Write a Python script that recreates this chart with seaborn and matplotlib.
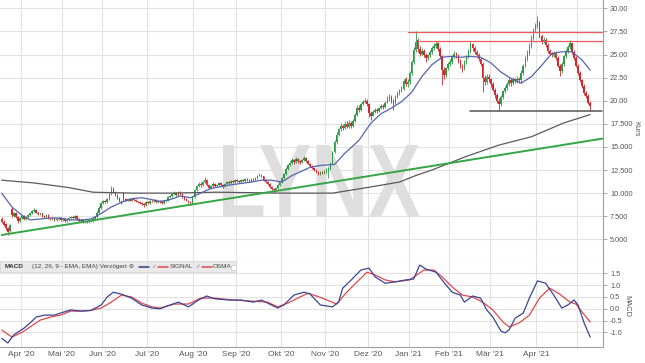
import numpy as np
import pandas as pd
import matplotlib
matplotlib.use('Agg')
import matplotlib.pyplot as plt
import matplotlib.transforms as mtransforms
from matplotlib.lines import Line2D
from matplotlib.patches import Rectangle, PathPatch
from matplotlib.textpath import TextPath
from matplotlib.font_manager import FontProperties
import seaborn as sns

# --- daily candles, 18.03.2020 .. 11.05.2021 (Xetra trading days) ---
open_ = [7.2, 6.9, 6.7, 6.2, 5.9, 8.3, 7.5, 7.9, 7.4, 7.0,
         7.3, 7.5, 7.2, 7.4, 7.6, 7.8, 8.1, 8.2, 7.9, 7.7,
         7.8, 7.5, 7.4, 7.6, 7.3, 7.2, 7.3, 7.1, 7.2, 7.3,
         7.1, 7.2, 7.0, 7.1, 7.3, 7.4, 7.3, 7.5, 7.2, 7.0,
         7.1, 6.9, 7.0, 6.9, 7.1, 7.0, 7.2, 7.4, 7.9, 8.4,
         8.9, 9.1, 9.0, 9.4, 9.9, 10.6, 10.1, 9.8, 9.5, 9.1,
         10.0, 9.4, 9.2, 9.4, 9.2, 9.4, 9.3, 9.1, 9.0, 8.9,
         8.8, 8.7, 9.0, 8.9, 9.2, 9.1, 9.3, 9.0, 9.2, 9.0,
         8.9, 9.1, 9.2, 9.6, 9.7, 9.9, 10.0, 9.8, 10.1, 9.9,
         9.6, 9.4, 9.2, 9.0, 8.9, 9.6, 10.3, 10.8, 11.0, 10.9,
         11.2, 11.4, 10.9, 10.6, 10.8, 11.0, 10.8, 10.9, 11.1, 10.9,
         10.8, 11.0, 11.2, 11.1, 11.3, 11.2, 11.4, 11.3, 11.2, 11.4,
         11.3, 11.5, 11.4, 11.3, 11.5, 11.4, 11.6, 11.9, 12.0, 11.8,
         11.4, 11.2, 11.0, 10.7, 10.5, 10.3, 10.6, 10.9, 11.2, 11.6,
         12.1, 12.6, 13.0, 13.3, 13.6, 13.4, 13.7, 13.5, 13.4, 13.6,
         13.8, 13.5, 13.2, 12.9, 12.7, 12.5, 12.3, 12.1, 12.3, 12.2,
         12.4, 12.5, 12.6, 13.2, 14.4, 15.5, 16.3, 16.9, 17.3, 17.0,
         17.5, 17.2, 17.6, 17.3, 17.8, 18.5, 19.2, 19.0, 19.6, 19.9,
         20.0, 19.6, 18.7, 18.4, 18.8, 19.0, 18.9, 19.2, 19.4, 19.3,
         19.8, 20.2, 20.4, 20.0, 19.7, 20.4, 20.8, 21.0, 21.3, 22.3,
         21.8, 22.0, 23.0, 24.2, 25.5, 26.6, 25.6, 25.1, 25.4, 25.0,
         24.6, 24.9, 25.3, 25.7, 25.9, 26.2, 25.6, 24.8, 23.3, 22.8,
         23.5, 24.0, 24.2, 24.8, 25.1, 24.9, 24.3, 23.8, 23.5, 24.2,
         24.8, 25.4, 26.1, 25.7, 25.3, 25.0, 24.5, 24.0, 22.5, 22.0,
         22.6, 22.3, 21.8, 21.2, 20.6, 20.0, 19.6, 20.4, 21.0, 21.4,
         21.8, 22.2, 21.9, 22.3, 22.1, 22.4, 22.2, 23.0, 23.8, 24.5,
         25.2, 25.9, 26.8, 27.6, 28.1, 28.4, 27.0, 26.4, 26.6, 26.0,
         25.4, 25.1, 24.9, 25.2, 24.6, 23.8, 23.2, 24.0, 24.8, 25.4,
         25.8, 26.2, 25.3, 24.6, 23.8, 23.0, 22.2, 21.6, 20.8, 20.5, 19.8]
close = [6.9, 6.6, 6.2, 5.8, 6.5, 7.6, 7.8, 7.4, 7.0, 7.3,
         7.5, 7.2, 7.4, 7.6, 7.8, 8.1, 8.2, 7.9, 7.7, 7.8,
         7.5, 7.4, 7.6, 7.3, 7.2, 7.3, 7.1, 7.2, 7.3, 7.1,
         7.2, 7.0, 7.1, 7.3, 7.4, 7.3, 7.5, 7.2, 7.0, 7.1,
         6.9, 7.0, 6.9, 7.1, 7.0, 7.2, 7.4, 7.9, 8.4, 8.9,
         9.1, 9.0, 9.4, 9.9, 10.4, 10.1, 9.8, 9.5, 9.1, 9.0,
         9.4, 9.2, 9.4, 9.2, 9.4, 9.3, 9.1, 9.0, 8.9, 8.8,
         8.7, 9.0, 8.9, 9.2, 9.1, 9.3, 9.0, 9.2, 9.0, 8.9,
         9.1, 9.2, 9.6, 9.7, 9.9, 10.0, 9.8, 10.1, 9.9, 9.6,
         9.4, 9.2, 9.0, 8.9, 9.6, 10.3, 10.8, 11.0, 10.9, 11.2,
         11.4, 10.9, 10.6, 10.8, 11.0, 10.8, 10.9, 11.1, 10.9, 10.8,
         11.0, 11.2, 11.1, 11.3, 11.2, 11.4, 11.3, 11.2, 11.4, 11.3,
         11.5, 11.4, 11.3, 11.5, 11.4, 11.6, 11.9, 12.0, 11.8, 11.4,
         11.2, 11.0, 10.7, 10.5, 10.3, 10.6, 10.9, 11.2, 11.6, 12.1,
         12.6, 13.0, 13.3, 13.6, 13.4, 13.7, 13.5, 13.4, 13.6, 13.8,
         13.5, 13.2, 12.9, 12.7, 12.5, 12.3, 12.1, 12.3, 12.2, 12.4,
         12.5, 12.6, 13.2, 14.4, 15.5, 16.3, 16.9, 17.3, 17.0, 17.5,
         17.2, 17.6, 17.3, 17.8, 18.5, 19.2, 19.0, 19.6, 19.9, 20.0,
         19.6, 18.7, 18.4, 18.8, 19.0, 18.9, 19.2, 19.4, 19.3, 19.8,
         20.2, 20.4, 20.0, 19.7, 20.4, 20.8, 21.0, 21.3, 22.1, 21.8,
         22.0, 23.0, 24.2, 25.5, 26.4, 25.6, 25.1, 25.4, 25.0, 24.6,
         24.9, 25.3, 25.7, 25.9, 26.1, 25.6, 24.8, 23.3, 22.8, 23.5,
         24.0, 24.2, 24.8, 25.1, 24.9, 24.3, 23.8, 23.5, 24.2, 24.8,
         25.4, 26.1, 25.7, 25.3, 25.0, 24.5, 24.0, 22.5, 22.0, 22.6,
         22.3, 21.8, 21.2, 20.6, 20.0, 19.6, 20.4, 21.0, 21.4, 21.8,
         22.2, 21.9, 22.3, 22.1, 22.4, 22.2, 23.0, 23.8, 24.5, 25.2,
         25.9, 26.8, 27.6, 28.1, 28.6, 27.0, 26.4, 26.6, 26.0, 25.4,
         25.1, 24.9, 25.2, 24.6, 23.8, 23.2, 24.0, 24.8, 25.4, 25.8,
         26.2, 25.3, 24.6, 23.8, 23.0, 22.2, 21.6, 20.8, 20.5, 19.8, 19.4]
high = [7.4, 7.1, 6.8, 6.3, 6.7, 8.5, 8.0, 8.0, 7.5, 7.4,
        7.6, 7.6, 7.5, 7.7, 7.9, 8.2, 8.4, 8.3, 8.0, 7.9,
        7.9, 7.6, 7.7, 7.7, 7.4, 7.4, 7.4, 7.3, 7.4, 7.4,
        7.3, 7.3, 7.2, 7.4, 7.5, 7.5, 7.6, 7.6, 7.3, 7.2,
        7.2, 7.1, 7.1, 7.2, 7.2, 7.3, 7.5, 8.1, 8.6, 9.0,
        9.3, 9.3, 9.5, 10.0, 10.8, 10.7, 10.2, 9.9, 9.6, 9.2,
        10.1, 9.5, 9.5, 9.5, 9.5, 9.5, 9.4, 9.2, 9.1, 9.0,
        8.9, 9.1, 9.1, 9.3, 9.3, 9.4, 9.4, 9.3, 9.3, 9.1,
        9.2, 9.3, 9.7, 9.8, 10.0, 10.2, 10.1, 10.2, 10.2, 10.0,
        9.7, 9.5, 9.3, 9.1, 9.7, 10.4, 10.9, 11.2, 11.2, 11.3,
        11.7, 11.5, 11.0, 10.9, 11.2, 11.1, 11.0, 11.2, 11.2, 11.0,
        11.1, 11.3, 11.3, 11.4, 11.4, 11.5, 11.5, 11.4, 11.5, 11.5,
        11.6, 11.6, 11.5, 11.6, 11.6, 11.7, 12.0, 12.2, 12.1, 11.9,
        11.5, 11.3, 11.1, 10.8, 10.6, 10.7, 11.0, 11.3, 11.7, 12.2,
        12.8, 13.1, 13.5, 13.8, 13.7, 13.9, 13.8, 13.6, 13.7, 14.0,
        13.9, 13.6, 13.3, 13.0, 12.8, 12.6, 12.4, 12.4, 12.4, 12.5,
        12.7, 12.8, 13.4, 14.6, 15.7, 16.6, 17.1, 17.6, 17.5, 17.8,
        17.8, 17.9, 17.8, 18.0, 18.7, 19.5, 19.5, 19.8, 20.1, 20.3,
        20.2, 19.8, 18.9, 19.0, 19.2, 19.2, 19.3, 19.6, 19.6, 20.0,
        20.5, 20.7, 20.6, 20.2, 20.6, 21.0, 21.3, 21.6, 22.4, 22.6,
        22.3, 23.2, 24.4, 25.8, 27.5, 26.8, 25.9, 25.7, 25.6, 25.2,
        25.1, 25.5, 25.9, 26.2, 26.5, 26.4, 25.8, 25.0, 23.6, 23.7,
        24.2, 24.5, 25.0, 25.4, 25.3, 25.0, 24.5, 24.0, 24.4, 25.0,
        25.6, 26.5, 26.3, 25.9, 25.5, 25.2, 24.7, 24.2, 22.8, 22.9,
        22.9, 22.5, 22.0, 21.4, 20.8, 20.3, 20.6, 21.2, 21.6, 22.0,
        22.5, 22.5, 22.6, 22.5, 22.7, 22.6, 23.3, 24.0, 24.8, 25.5,
        26.2, 27.1, 27.9, 28.4, 29.2, 28.6, 27.2, 26.9, 26.8, 26.2,
        25.6, 25.3, 25.4, 25.4, 24.8, 24.0, 24.2, 25.0, 25.6, 26.0,
        26.6, 26.3, 25.5, 24.8, 24.0, 23.2, 22.4, 21.8, 21.0, 20.7, 20.0]
low = [6.8, 6.4, 6.0, 5.5, 5.8, 7.4, 7.4, 7.3, 6.8, 6.9,
       7.2, 7.1, 7.1, 7.3, 7.5, 7.7, 8.0, 7.8, 7.6, 7.6,
       7.4, 7.3, 7.3, 7.2, 7.1, 7.1, 7.0, 7.0, 7.1, 7.0,
       7.0, 6.9, 6.9, 7.0, 7.2, 7.2, 7.2, 7.1, 6.9, 6.9,
       6.8, 6.8, 6.8, 6.8, 6.9, 6.9, 7.1, 7.3, 7.8, 8.3,
       8.8, 8.9, 8.9, 9.3, 9.8, 10.0, 9.7, 9.4, 9.0, 8.8,
       9.2, 9.1, 9.1, 9.1, 9.1, 9.2, 9.0, 8.9, 8.8, 8.7,
       8.5, 8.6, 8.8, 8.8, 9.0, 9.0, 8.9, 8.9, 8.9, 8.8,
       8.8, 9.0, 9.1, 9.5, 9.6, 9.8, 9.7, 9.7, 9.8, 9.5,
       9.3, 9.1, 8.9, 8.7, 8.8, 9.5, 10.2, 10.7, 10.7, 10.8,
       11.1, 10.8, 10.4, 10.5, 10.7, 10.7, 10.7, 10.8, 10.8, 10.6,
       10.7, 10.9, 11.0, 11.0, 11.1, 11.1, 11.2, 11.1, 11.1, 11.2,
       11.2, 11.3, 11.2, 11.2, 11.3, 11.3, 11.5, 11.8, 11.7, 11.3,
       11.1, 10.9, 10.6, 10.3, 10.1, 10.2, 10.5, 10.8, 11.1, 11.5,
       12.0, 12.5, 12.9, 13.2, 13.2, 13.3, 13.3, 13.2, 13.3, 13.5,
       13.4, 13.1, 12.8, 12.6, 12.4, 12.2, 12.0, 12.0, 12.1, 12.1,
       12.2, 11.6, 12.5, 13.1, 14.3, 15.3, 16.2, 16.7, 16.8, 16.9,
       17.0, 17.1, 17.1, 17.2, 17.7, 18.4, 18.8, 18.9, 19.5, 19.7,
       19.4, 18.2, 17.9, 18.3, 18.7, 18.7, 18.8, 19.1, 19.1, 19.2,
       19.7, 20.0, 19.8, 19.0, 19.6, 20.3, 20.6, 20.9, 21.2, 21.6,
       21.5, 21.8, 22.8, 24.0, 25.3, 25.3, 24.8, 24.9, 24.7, 24.2,
       24.4, 24.7, 25.1, 25.5, 25.7, 25.4, 24.6, 21.7, 22.4, 22.6,
       23.3, 23.8, 24.0, 24.6, 24.6, 24.1, 23.5, 23.1, 23.3, 24.0,
       24.6, 25.2, 25.4, 25.1, 24.8, 24.3, 23.8, 20.9, 21.7, 21.8,
       22.0, 21.5, 21.0, 20.3, 19.7, 18.9, 19.4, 20.2, 20.8, 21.2,
       21.6, 21.6, 21.7, 21.9, 21.9, 21.9, 22.0, 22.8, 23.6, 24.3,
       25.0, 25.7, 26.6, 27.4, 27.9, 26.8, 26.1, 26.2, 25.8, 25.2,
       24.9, 24.7, 24.7, 24.4, 23.6, 22.7, 23.0, 23.8, 24.6, 25.2,
       25.6, 25.1, 24.4, 23.6, 22.8, 22.0, 21.4, 20.6, 20.3, 19.6, 18.9]

# moving averages (trading-day index, value)
ma_short_idx = [0, 5, 10, 14, 19, 24, 29, 34, 39, 44, 49, 54, 59, 64, 69, 74, 78, 83, 88, 93,
                98, 103, 113, 123, 128, 133, 138, 143, 148, 152, 157, 164, 169, 176, 182, 187,
                192, 197, 202, 207, 212, 217, 221, 226, 231, 236, 241, 246, 251, 256, 261, 266,
                271, 276, 281, 286, 290]
ma_short_val = [10.0, 8.5, 7.6, 7.1, 7.2, 7.3, 7.3, 7.1, 7.1, 7.2, 7.8, 8.5, 9.0, 9.4, 9.5, 9.3,
                9.1, 9.3, 9.7, 9.5, 10.0, 10.5, 10.9, 11.2, 11.4, 11.4, 11.2, 11.9, 12.4, 12.8,
                13.0, 13.1, 14.3, 15.7, 17.6, 18.6, 19.2, 19.9, 20.9, 22.6, 23.9, 24.7, 24.8,
                24.7, 24.8, 24.7, 24.1, 23.1, 22.4, 21.9, 22.6, 23.8, 25.1, 25.3, 25.3, 24.4, 23.3]
ma_long_idx = [0, 16, 33, 45, 65, 82, 106, 139, 163, 180, 196, 204, 212, 228, 245, 261, 277, 290]
ma_long_val = [11.4, 11.1, 10.6, 10.1, 10.0, 10.0, 10.1, 10.0, 10.0, 10.6, 11.2, 11.9, 12.5,
               13.9, 15.2, 16.1, 17.6, 18.5]

# drawn lines: trend line, resistance and support
trend_idx = [0, 296]
trend_val = [5.47, 15.9]
resist_hi_idx = [200, 297]
resist_hi_val = [27.45, 27.45]
resist_lo_idx = [206, 297]
resist_lo_val = [26.5, 26.5]
support_idx = [231, 296]
support_val = [18.9, 18.9]

# MACD (12, 26, 9)
macd_idx = [0, 3, 6, 11, 14, 17, 21, 26, 29, 34, 39, 44, 49, 52, 55, 59, 64, 69, 74, 78, 83, 87,
            92, 97, 101, 105, 112, 118, 124, 128, 131, 136, 139, 144, 149, 152, 157, 163, 166,
            168, 172, 177, 181, 184, 189, 194, 199, 203, 206, 209, 214, 219, 222, 226, 228, 232,
            236, 239, 242, 246, 248, 250, 253, 257, 260, 264, 268, 272, 276, 279, 282, 284, 287, 290]
macd_val = [-1.25, -1.45, -1.1, -0.82, -0.6, -0.35, -0.27, -0.27, -0.18, -0.05, -0.1, -0.07, 0.16,
            0.5, 0.7, 0.62, 0.45, 0.16, 0.03, 0.0, 0.16, 0.28, 0.08, 0.37, 0.54, 0.42, 0.37, 0.37,
            0.28, 0.37, 0.24, 0.03, 0.16, 0.58, 0.7, 0.62, 0.16, 0.08, 0.28, 0.87, 1.2, 1.64, 1.72,
            1.35, 1.08, 1.14, 1.22, 1.26, 1.85, 1.68, 1.55, 1.0, 0.7, 0.58, 0.28, 0.54, 0.45, -0.05,
            -0.35, -0.94, -1.02, -0.9, -0.4, -0.18, 0.45, 1.18, 1.08, 0.58, 0.03, 0.16, 0.37, 0.16,
            -0.6, -1.2]
signal_idx = [0, 5, 10, 14, 19, 24, 29, 34, 39, 44, 49, 54, 59, 64, 69, 74, 78, 85, 92, 98, 105,
              114, 124, 131, 136, 141, 147, 151, 158, 165, 170, 175, 180, 184, 189, 194, 201, 208,
              213, 217, 222, 227, 232, 237, 242, 247, 250, 255, 260, 265, 270, 275, 280, 283, 286, 290]
signal_val = [-0.9, -1.2, -1.0, -0.77, -0.48, -0.35, -0.27, -0.1, -0.1, -0.07, 0.03, 0.28, 0.58,
              0.5, 0.24, 0.08, 0.03, 0.2, 0.2, 0.45, 0.45, 0.37, 0.32, 0.28, 0.08, 0.24, 0.5, 0.66,
              0.45, 0.2, 0.7, 1.13, 1.55, 1.43, 1.22, 1.14, 1.22, 1.64, 1.64, 1.35, 0.92, 0.58, 0.5,
              0.28, -0.05, -0.56, -0.77, -0.6, -0.27, 0.45, 0.87, 0.62, 0.28, 0.2, -0.14, -0.56]

kurs_ticks = [5, 7.5, 10, 12.5, 15, 17.5, 20, 22.5, 25, 27.5, 30]
kurs_labels = ['5.000', '7.500', '10.000', '12.500', '15.000', '17.500',
               '20.00', '22.50', '25.00', '27.50', '30.00']
macd_ticks = [-1.0, -0.5, 0.0, 0.5, 1.0, 1.5]
macd_labels = ['-1.0', '-0.5', '0.0', '0.5', '1.0', '1.5']
month_labels = ["Apr '20", "Mai '20", "Jun '20", "Jul '20", "Aug '20", "Sep '20", "Okt '20",
                "Nov '20", "Dez '20", "Jan '21", "Feb '21", "Mär '21", "Apr '21", ""]
holidays = ['2020-04-10', '2020-04-13', '2020-05-01', '2020-12-24', '2020-12-25',
            '2020-12-31', '2021-01-01', '2021-04-02', '2021-04-05']

assert len(open_) == len(close) == len(high) == len(low)

days = pd.bdate_range('2020-03-18', periods=320)
days = days[~days.isin(pd.to_datetime(holidays))][:len(close)]
pos = np.arange(len(days))
month_pos = [i - 0.5 for i in range(1, len(days)) if days[i].month != days[i - 1].month]

GREEN = '#2f9a45'
RED = '#d4262c'
GRID = '#e2e2e2'
TXT = '#555555'

sns.set_style('whitegrid')
plt.rcParams['font.family'] = ['Liberation Sans', 'DejaVu Sans']

W, H = 645, 363
fig = plt.figure(figsize=(W / 100, H / 100), dpi=100)


def fbox(x0, y0, x1, y1):
    return [x0 / W, 1 - y1 / H, (x1 - x0) / W, (y1 - y0) / H]


ax = fig.add_axes(fbox(0, 0, 603, 258))
ax2 = fig.add_axes(fbox(0, 258, 603, 347), sharex=ax)

# watermark
fp = FontProperties(family='Liberation Sans', weight='bold')
tp = TextPath((0, 0), 'LYNX', size=100, prop=fp)
bb = tp.get_extents()
wx0, wy0, wx1, wy1 = 223 / W, 1 - 217 / H, 420 / W, 1 - 145 / H
wtr = (mtransforms.Affine2D().translate(-bb.x0, -bb.y0)
       .scale((wx1 - wx0) / bb.width, (wy1 - wy0) / bb.height)
       .translate(wx0, wy0) + fig.transFigure)
ax.add_artist(PathPatch(tp, transform=wtr, facecolor='#dedede', edgecolor='none', zorder=1))

# candles
o = np.array(open_)
c = np.array(close)
cols = [GREEN if cc >= oo else RED for oo, cc in zip(o, c)]
ax.vlines(pos, low, high, colors=cols, lw=0.6, zorder=2)
body = np.maximum(np.abs(c - o), 0.06)
ax.bar(pos, body, bottom=np.minimum(o, c), width=0.75, color=cols, linewidth=0, zorder=3)

sns.lineplot(x=ma_long_idx, y=ma_long_val, ax=ax, color='#5a5a5a', lw=0.9, zorder=4)
sns.lineplot(x=ma_short_idx, y=ma_short_val, ax=ax, color='#5663ad', lw=0.9, zorder=4)
sns.lineplot(x=trend_idx, y=trend_val, ax=ax, color='#35a645', lw=1.4, zorder=4)
sns.lineplot(x=resist_hi_idx, y=resist_hi_val, ax=ax, color='#ec5a60', lw=0.9, zorder=4)
sns.lineplot(x=resist_lo_idx, y=resist_lo_val, ax=ax, color='#ec5a60', lw=0.9, zorder=4)
sns.lineplot(x=support_idx, y=support_val, ax=ax, color='#555555', lw=1.1, zorder=4)

sns.lineplot(x=signal_idx, y=signal_val, ax=ax2, color='#e2474a', lw=0.9)
sns.lineplot(x=macd_idx, y=macd_val, ax=ax2, color='#3a4596', lw=0.9)

ax.set_xlim(-0.85, 296.3)
ax.set_ylim(2.98, 30.9)
ax2.set_ylim(-1.62, 2.15)

for a, ticks, labels in ((ax, kurs_ticks, kurs_labels), (ax2, macd_ticks, macd_labels)):
    a.set_facecolor('white')
    a.yaxis.tick_right()
    a.set_yticks(ticks)
    a.set_yticklabels(labels)
    a.grid(True, color=GRID, lw=0.8)
    a.set_axisbelow(True)
    a.tick_params(axis='y', which='both', right=True, length=3, width=0.6, color='#999999',
                  labelsize=5.3, labelcolor=TXT, pad=2)
    for s in ('left', 'top'):
        a.spines[s].set_visible(False)
    a.spines['right'].set_color('#a0a0a0')
    a.spines['bottom'].set_color('#cfcfcf')
    a.spines['right'].set_linewidth(0.8)
    a.set_xlabel('')

ax.set_xticks(month_pos)
ax.tick_params(axis='x', labelbottom=False, length=0)
ax2.set_xticks(month_pos)
ax2.set_xticklabels(month_labels)
ax2.tick_params(axis='x', length=0, labelsize=6, labelcolor=TXT, pad=3)
ax2.spines['bottom'].set_color('#a0a0a0')

ax.set_ylabel('Kurs', rotation=270, fontsize=5.4, color=TXT, va='center')
ax.yaxis.set_label_position('right')
ax.yaxis.set_label_coords(639 / 603, 0.5)
ax2.set_ylabel('MACD', rotation=270, fontsize=5.4, color=TXT, va='center')
ax2.yaxis.set_label_position('right')
ax2.yaxis.set_label_coords(630 / 603, 0.46)

# MACD header bar
fig.add_artist(Rectangle((0, 1 - 272 / H), 236 / W, 11 / H, transform=fig.transFigure,
                         facecolor='#e9e9e9', edgecolor='#d6d6d6', lw=0.6, zorder=5))
yc = 1 - 266.5 / H
fig.text(5 / W, yc, 'MACD', fontsize=4.6, fontweight='bold', color='#333333', va='center', zorder=6)
fig.text(32 / W, yc, '(12, 26, 9 - EMA, EMA) Verzögert \u2699', fontsize=4.6, color='#444444',
         va='center', zorder=6, family=['Liberation Sans', 'DejaVu Sans'])
for x0, x1, col in ((139, 149, '#2f3a8a'), (158, 168, '#e2474a'), (202, 212, '#e2474a')):
    fig.add_artist(Line2D([x0 / W, x1 / W], [yc, yc], transform=fig.transFigure, color=col,
                          lw=1.1, zorder=6))
fig.text(151 / W, yc, '\u2713', fontsize=4.2, color='#6a86c0', va='center', zorder=6,
         family=['DejaVu Sans'])
fig.text(170 / W, yc, 'SIGNAL', fontsize=4.6, color='#444444', va='center', zorder=6)
fig.text(195 / W, yc, '\u2713', fontsize=4.2, color='#6a86c0', va='center', zorder=6,
         family=['DejaVu Sans'])
fig.text(213 / W, yc, 'OSMA', fontsize=4.6, color='#444444', va='center', zorder=6)
fig.add_artist(Rectangle((231 / W, 1 - 269.5 / H), 5 / W, 5 / H, transform=fig.transFigure,
                         facecolor='white', edgecolor='#cccccc', lw=0.5, zorder=6))

fig.savefig('out.png', dpi=100)
